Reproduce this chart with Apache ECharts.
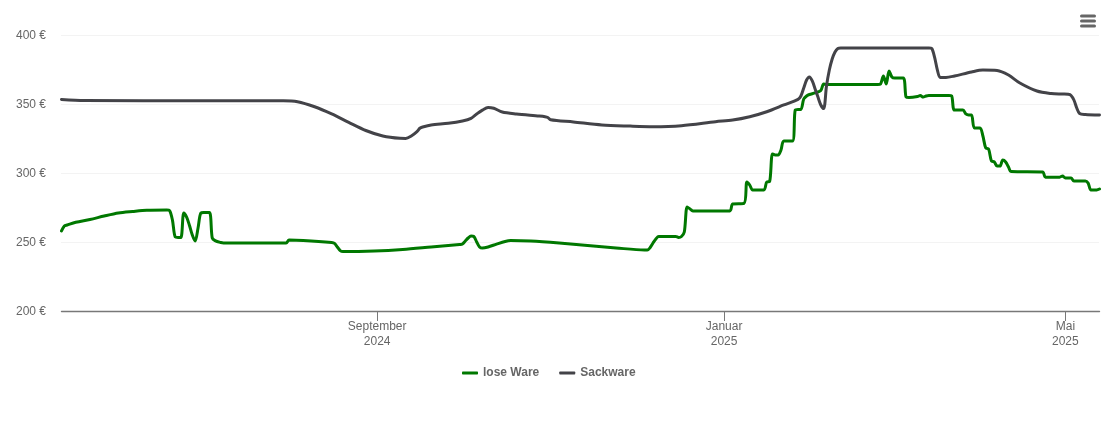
<!DOCTYPE html>
<html>
<head>
<meta charset="utf-8">
<style>html,body{margin:0;padding:0;background:#fff}#c{width:1110px;height:422px}</style>
<script src="https://cdn.jsdelivr.net/npm/echarts@6/dist/echarts.min.js"></script>
</head>
<body>
<div id="c"></div>
<script>
const startDate = Date.UTC(2024, 4, 13);
const endDate = Date.UTC(2025, 4, 13);
const monthNames = {8: 'September', 0: 'Januar', 4: 'Mai'};
const tickDates = [Date.UTC(2024, 8, 1), Date.UTC(2025, 0, 1), Date.UTC(2025, 4, 1)];
const yTicks = {min: 200, max: 400, step: 50};

const seriesNames = ['lose Ware', 'Sackware'];

// days since 13 May 2024
const looseDays = [0,1,2,5,10,15,20,25,30,37,38,39,40,41,42,43,44,45,46,47,48,49,50,52,53,54,56,57,79,80,85,95,96,97,98,99,110,120,130,140,141,142,143,144,145,146,147,148,150,153,156,158,165,175,185,195,205,206,207,208,209,210,216,217,218,219,220,221,222,235,236,240,241,242,243,244,247,248,249,250,251,252,253,254,257,258,259,260,261,262,263,265,267,268,269,287,288,289,290,291,292,293,296,297,298,301,302,303,304,305,312,313,314,317,318,319,320,321,323,324,325,326,327,328,329,330,331,332,333,334,345,346,351,352,353,355,356,360,361,362,364,365];
const looseValues = [258,261.6,262.3,264.3,266.3,268.8,271,272.1,273,273.2,272.8,266,253.6,253.3,253.3,271,268,262,255,250.7,260,271,271.3,271.3,253,251,249.6,249.3,249.3,251.4,251.1,249.6,249,246.4,243.8,243.1,243.5,244.6,246.4,248.2,248.5,250.7,252.9,254.3,254,250,246.4,245.6,246.4,248.5,250.4,251,250.7,249.3,247.5,245.7,244.2,244.2,246,249.3,252.2,254,254,253.3,254,257.2,275.4,274,272.5,272.5,277.5,278,293.5,291.3,287.7,287.7,287.7,293.5,293.8,313.8,313,313,316.7,323.2,323.2,345.6,346,346,353.6,355.8,356.9,358,359.8,364.5,364.1,364.1,364.5,370.3,364.5,373.9,369.6,368.8,368.8,355,354.7,355.4,356.2,355,355.8,356.2,356.2,355.9,345.6,345.6,342.8,342,342,332.6,332.6,326.8,318.1,317.4,308.7,308,305,305,309.4,308,304.3,301,300.7,297,297,297.8,296.4,296.4,294.2,294.2,292.7,287.7,287.7,288.4];

const sackDays = [0,8,50,78,83,89,95,101,107,113,119,121,123,125,126,127,130,136,141,144,146,148,150,152,155,160,168,170,171,172,180,190,200,208,218,230,236,242,248,254,259,260,261,262,263,264,265,266,267,268,269,270,271,272,273,274,305,306,307,308,309,311,314,320,324,329,333,337,343,348,352,354,355,356,357,358,360,365];
const sackValues = [353.3,352.6,352.4,352.4,351.7,348,342.8,336.7,330.8,326.8,325.1,325,326.8,330,332.4,333.3,334.8,336,337.7,339.6,342.8,345.6,347.5,346.9,344.2,342.8,341.3,340.8,340.2,338.6,337,334.8,334,333.6,334.3,337.2,338.4,340.8,344.4,349.3,353.4,355.8,361.6,367.4,369.6,366.7,360.9,355,349.3,346.7,363,374.6,382.6,387.7,390.2,390.6,390.6,390.2,384,374.6,369.2,369.2,370.3,373.2,374.6,374.3,371,365.2,359.4,357.6,357.2,357,356.2,352.9,347.1,343.1,342.4,342];

const DAY = 86400000;
const toPoints = (days, values) => days.map((d, i) => [startDate + d * DAY, values[i]]);

const chart = echarts.init(document.getElementById('c'), null, {renderer: 'canvas'});
const FONT = '"Liberation Sans", Arial, Helvetica, sans-serif';
const lineSeries = (name, days, values, color) => ({
  name, type: 'line', showSymbol: false, symbol: 'none',
  smooth: 0.3,
  lineStyle: {width: 3, color, cap: 'round', join: 'round'},
  itemStyle: {color},
  data: toPoints(days, values)
});

chart.setOption({
  animation: false,
  backgroundColor: '#ffffff',
  textStyle: {fontFamily: FONT},
  grid: {left: 61.5, right: 10.5, top: 35, bottom: 111, containLabel: false},
  legend: {
    left: 462, top: 367, itemWidth: 16, itemHeight: 3, itemGap: 20, icon: 'roundRect',
    textStyle: {fontSize: 12, fontWeight: 'bold', color: '#666666', fontFamily: FONT},
    padding: 0,
    data: seriesNames
  },
  xAxis: {
    type: 'value', min: startDate, max: endDate, scale: true,
    axisLine: {lineStyle: {color: '#787878', width: 1.4}},
    axisTick: {show: true, length: 10, customValues: tickDates, lineStyle: {color: '#787878', width: 1}},
    splitLine: {show: false},
    axisLabel: {
      customValues: tickDates, color: '#666666', fontSize: 12, fontFamily: FONT, margin: 8, lineHeight: 15,
      hideOverlap: false, showMinLabel: true, showMaxLabel: true,
      formatter: v => {
        const d = new Date(v);
        return monthNames[d.getUTCMonth()] + '\n' + d.getUTCFullYear();
      }
    }
  },
  yAxis: {
    type: 'value', min: yTicks.min, max: yTicks.max, interval: yTicks.step,
    axisLine: {show: false}, axisTick: {show: false},
    splitLine: {show: true, lineStyle: {color: '#e6e6e6', type: 'dotted', width: 1}},
    axisLabel: {color: '#666666', fontSize: 12, fontFamily: FONT, margin: 15.5, verticalAlign: 'top', lineHeight: 2, formatter: v => v + ' €'}
  },
  graphic: [16, 21, 26].map(y => ({
    type: 'rect', silent: true,
    shape: {x: 1080, y: y - 1.5, width: 16, height: 3, r: 1.5},
    style: {fill: '#666666'}
  })),
  series: [
    lineSeries(seriesNames[0], looseDays, looseValues, '#007800'),
    lineSeries(seriesNames[1], sackDays, sackValues, '#434348')
  ]
});
</script>
</body>
</html>
